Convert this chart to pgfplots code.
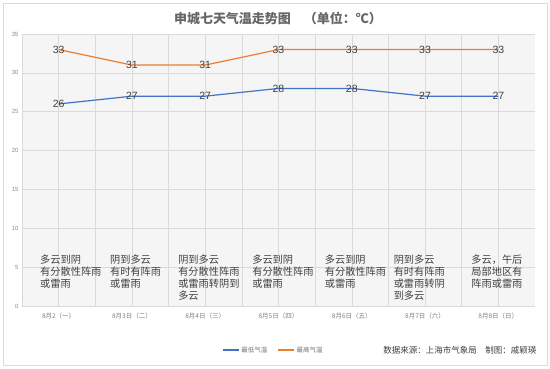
\documentclass[border=0pt]{standalone}
\usepackage{fontspec}
\setmainfont{Liberation Sans}
\newfontfamily\cjk{Noto Sans CJK SC}
\usepackage{pgfplots}
\pgfplotsset{compat=1.18}
\definecolor{cblue}{HTML}{4472C4}
\definecolor{corange}{HTML}{ED7D31}
\definecolor{txt}{HTML}{404040}
\definecolor{gridc}{HTML}{DADADA}
\begin{document}
\begin{tikzpicture}[x=1pt,y=1pt]
\useasboundingbox (0,0) rectangle (550,368);
\fill[white] (0,0) rectangle (550,368);
\draw[gridc, line width=0.8pt] (3,3) rectangle (547,365);
\node[font=\cjk\bfseries\fontsize{13}{15}\selectfont, text=black!60] at (278,350) {申城七天气温走势图\quad （单位：℃）};
\begin{axis}[
  at={(22pt,62pt)}, anchor=south west,
  width=513pt, height=272pt, scale only axis,
  xmin=-0.5, xmax=6.5, ymin=0, ymax=35,
  ytick={0,5,...,35},
  xtick={0,...,6},
  xticklabels={8月2（一）,8月3日（二）,8月4日（三）,8月5日（四）,8月6日（五）,8月7日（六）,8月8日（日）},
  minor x tick num=1,
  xticklabel style={font=\cjk\fontsize{6.5}{7}\selectfont, text=black!50, yshift=-3pt},
  yticklabel style={font=\fontsize{6}{7}\selectfont, text=black!45},
  /pgf/number format/assume math mode=true,
  major tick length=0pt, minor tick length=0pt,
  xmajorgrids=true, xminorgrids=true, ymajorgrids=true,
  major grid style={gridc, line width=0.5pt},
  minor grid style={gridc, line width=0.5pt},
  axis line style={gridc},
  axis x line*=bottom, axis y line*=left,
  y axis line style={draw=none},
  axis background/.style={fill=black!4},
  legend style={at={(0.49,-0.162)}, anchor=center, draw=none, fill=none,
    font=\cjk\fontsize{6.5}{7}\selectfont, text=black!55, legend columns=2,
    /tikz/every even column/.append style={column sep=8pt}},
  legend image code/.code={\draw[#1, line width=1.2pt] (0pt,0pt) -- (16pt,0pt);},
  nodes near coords,
  every node near coord/.append style={anchor=center, font=\fontsize{10.5}{11}\selectfont, text=txt},
]
\draw[gridc, line width=0.5pt] (axis cs:-0.5,0) -- (axis cs:-0.5,35);
\draw[gridc, line width=0.5pt] (axis cs:6.5,0) -- (axis cs:6.5,35);
\addplot[cblue, line width=1.2pt] coordinates {(0,26) (1,27) (2,27) (3,28) (4,28) (5,27) (6,27)};
\addlegendentry{最低气温}
\addplot[corange, line width=1.2pt] coordinates {(0,33) (1,31) (2,31) (3,33) (4,33) (5,33) (6,33)};
\addlegendentry{最高气温}
\begin{scope}[every node/.style={anchor=north west, align=left, font=\cjk\fontsize{10.2}{12}\selectfont, text=txt, inner sep=0pt}]
\node at (axis cs:-0.254,6.6) {多云到阴\\有分散性阵雨\\或雷雨};
\node at (axis cs:0.70,6.6) {阴到多云\\有时有阵雨\\或雷雨};
\node at (axis cs:1.63,6.6) {阴到多云\\有分散性阵雨\\或雷雨转阴到\\多云};
\node at (axis cs:2.64,6.6) {多云到阴\\有分散性阵雨\\或雷雨};
\node at (axis cs:3.63,6.6) {多云到阴\\有分散性阵雨\\或雷雨};
\node at (axis cs:4.57,6.6) {阴到多云\\有时有阵雨\\或雷雨转阴\\到多云};
\node at (axis cs:5.63,6.6) {多云，午后\\局部地区有\\阵雨或雷雨};
\end{scope}
\end{axis}
\node[anchor=east, font=\cjk\fontsize{8.5}{10}\selectfont, text=black!75] at (540,18) {数据来源：上海市气象局\quad 制图：戚颖瑛};
\end{tikzpicture}
\end{document}
